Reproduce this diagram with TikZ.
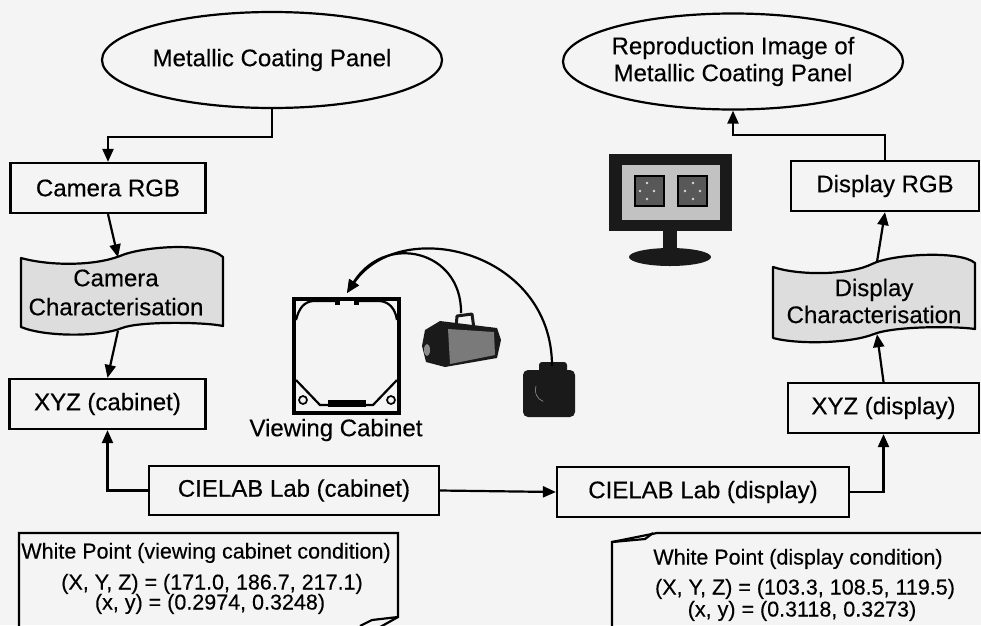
\documentclass[tikz,border=0pt]{standalone}
\usepackage{fontspec}
\setmainfont{Liberation Sans}[FakeBold=0.35]
\usetikzlibrary{shapes.geometric,arrows.meta}
\newcommand\mainsize{\fontsize{24}{28}\selectfont}
\newcommand\notesize{\fontsize{21.5}{21}\selectfont}
\definecolor{paper}{HTML}{F4F4F4}
\definecolor{tapefill}{HTML}{DDDDDD}
\definecolor{screengray}{HTML}{C2C2C2}
\definecolor{tilegray}{HTML}{585858}
\definecolor{camdark}{HTML}{1A1A1A}
\definecolor{campanel}{HTML}{7A7A7A}
\begin{document}
\begin{tikzpicture}[x=1pt,y=-1pt,
  every node/.style={font=\mainsize, inner sep=0pt},
  box/.style={draw, line width=2.2pt, minimum height=50pt},
  oval/.style={draw, ellipse, line width=2.2pt, minimum width=340pt, minimum height=96pt},
  tapebody/.style={draw, fill=tapefill, line width=2.2pt, line join=round},
  conn/.style={line width=2.2pt, -{Triangle[length=13pt,width=11pt]}},
  note/.style={font=\notesize, anchor=base},
  frame/.style={line width=2.2pt, line join=miter},
  cabline/.style={line width=2.2pt}]

% paper
\fill[paper] (0,0) rectangle (981,625);
\useasboundingbox (0,0) rectangle (981,625);

% ---------- source and reproduction ----------
\node[oval] (panel) at (272,60) {Metallic Coating Panel};
\node[oval, align=center, inner xsep=-2pt, font=\fontsize{24}{27}\selectfont]
  (repro) at (733,61.5) {Reproduction Image of\\Metallic Coating Panel};

% ---------- left (capture) chain ----------
\node[box, minimum width=195pt] (camrgb) at (108,188) {Camera RGB};

\draw[tapebody] (21,258) .. controls (50,266) and (94,266) .. (120,256)
  .. controls (140,247) and (205,241) .. (223,257) -- (223,326)
  .. controls (205,322) and (140,321) .. (122,328)
  .. controls (100,337) and (45,337) .. (21,327) -- cycle;
\node[align=center, minimum width=202pt, minimum height=70pt,
      font=\fontsize{24}{29}\selectfont] (ccam) at (116,292.5)
  {Camera\\Characterisation};

\node[box, minimum width=196pt] (xyzcab) at (107.5,404) {XYZ (cabinet)};
\node[box, minimum width=290pt, minimum height=49pt] (labcab) at (294,490.5) {CIELAB Lab (cabinet)};

% ---------- right (display) chain ----------
\node[box, minimum width=292pt] (labdisp) at (703,492) {CIELAB Lab (display)};
\node[box, minimum width=191pt] (xyzdisp) at (883.5,408) {XYZ (display)};

\draw[tapebody] (773,267) .. controls (800,276) and (850,275) .. (872,264)
  .. controls (892,254) and (960,250) .. (975,263) -- (975,329)
  .. controls (955,326) and (895,326) .. (874,334)
  .. controls (852,343) and (800,345) .. (773,338) -- cycle;
\node[align=center, minimum width=202pt, minimum height=66pt,
      font=\fontsize{24}{27}\selectfont] (cdisp) at (874,301)
  {Display\\Characterisation};

\node[box, minimum width=188pt] (disprgb) at (885,186) {Display RGB};

% ---------- connectors ----------
\draw[conn] (panel.south) -- ++(0,28) -| (camrgb.north);
\draw[conn] (camrgb.south) -- ([xshift=2pt]ccam.north);
\draw[conn] ([xshift=2pt,yshift=-3pt]ccam.south) -- (xyzcab.north);
\draw[conn] (labcab.west) -| (xyzcab.south);
\draw[conn] (labcab.east) -- (labdisp.west);
\draw[conn] (labdisp.east) -| (xyzdisp.south);
\draw[conn] (xyzdisp.north) -- ([xshift=3pt]cdisp.south);
\draw[conn] ([xshift=3pt,yshift=6pt]cdisp.north) -- (disprgb.south);
\draw[conn] (disprgb.north) -- ++(0,-25) -| (repro.south);

% ---------- monitor ----------
\fill[camdark] (609,154) rectangle (732,231);
\fill[screengray] (622,165) rectangle (720,220);
\draw[line width=1.4pt, fill=tilegray] (635,176) rectangle (664,206);
\draw[line width=1.4pt, fill=tilegray] (678,176) rectangle (707,206);
\foreach \p in {(647,183),(654,191),(647,199),(640,191),
                (693,183),(685,191),(700,191),(693,199)}
  \fill[white!85!black] \p circle[radius=1.3pt];
\fill[camdark] (663,230) rectangle (677,251);
\fill[camdark] (670,257) ellipse[x radius=41pt, y radius=9pt];

% ---------- viewing cabinet ----------
\draw[line width=3.8pt] (294,299) rectangle (399,413);
\draw[cabline] (296,320) .. controls (299,308) and (304,302) .. (313,301) -- (337,301);
\draw[cabline] (357,301) -- (380,301) .. controls (389,302) and (395,308) .. (397,320);
\fill (335,297.5) rectangle (340,304.5);
\fill (354,297.5) rectangle (359,304.5);
\draw[cabline] (296,380) -- (320,405) -- (373,405) -- (397,380);
\fill (328,400) rectangle (366,407);
\draw[line width=1.7pt] (303,400) circle[radius=4pt];
\draw[line width=1.7pt] (391,400) circle[radius=4pt];
\node (cablabel) at (336,430) {Viewing Cabinet};
\coordinate (cabin) at (347,293);

% ---------- video camera ----------
\fill[camdark] (425,330) -- (440,321) -- (497,328) -- (501,340) -- (497,358)
  -- (445,367) -- (426,362) -- (422,346) -- cycle;
\fill[campanel] (448,329) -- (494,332) -- (495,355) -- (450,364) -- cycle;
\fill[black!45] (427,350) ellipse[x radius=3pt, y radius=6pt];
\draw[camdark, line width=3pt, line join=round] (456,328) -- (457,316) -- (472,314) -- (474,329);
\coordinate (vcam) at (461,313);

% ---------- still camera ----------
\fill[camdark, rounded corners=5pt] (523,370) rectangle (575,417);
\fill[camdark, rounded corners=3pt] (539,362) rectangle (567,374);
\draw[black!35, line width=0.5pt] (536,386) arc[start angle=160, end angle=250, radius=12pt];
\coordinate (scam) at (552,366);

% cameras looking into the cabinet
\draw[conn] (vcam) .. controls (462,250) and (385,232) .. (cabin);
\draw[conn] (scam) .. controls (552,250) and (400,215) .. (cabin);

% ---------- white point notes ----------
\begin{scope}
\clip (0,0) rectangle (981,625);
\draw[frame] (19,640) -- (19,533) -- (398,533) -- (398,617) -- (357,640);
\draw[frame] (398,617) -- (372,620) -- (360,626);
\draw[frame] (612,640) -- (612,542) -- (657,533) -- (990,533);
\draw[frame] (612,542) -- (645,539) -- (653,533);
\end{scope}

\node[note] (wpa1) at (206,558.5) {White Point (viewing cabinet condition)};
\node[note] (wpa2) at (212,589.5) {(X, Y, Z) = (171.0, 186.7, 217.1)};
\node[note] (wpa3) at (210,609.5) {(x, y) = (0.2974, 0.3248)};

\node[note] (wpb1) at (798,564.5) {White Point (display condition)};
\node[note] (wpb2) at (805,594.5) {(X, Y, Z) = (103.3, 108.5, 119.5)};
\node[note] (wpb3) at (802,616.5) {(x, y) = (0.3118, 0.3273)};

\end{tikzpicture}
\end{document}
